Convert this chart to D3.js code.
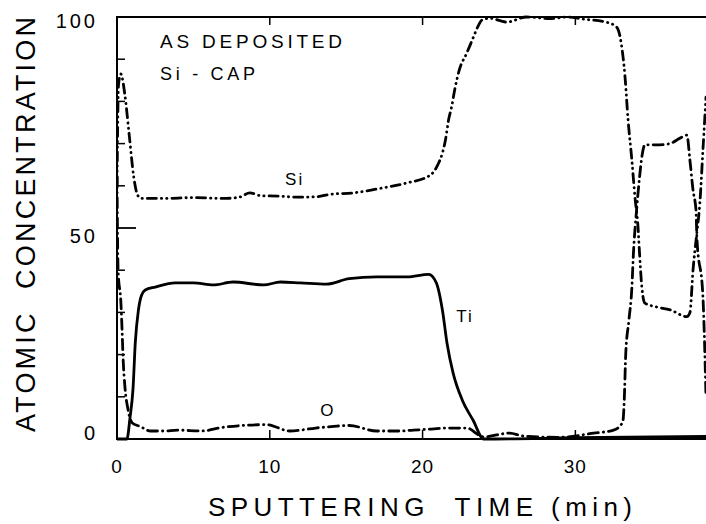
<!DOCTYPE html>
<html><head><meta charset="utf-8">
<script src="https://cdn.jsdelivr.net/npm/d3@7/dist/d3.min.js"></script>
<style>body{margin:0;background:#fff}svg{display:block}text{font-family:"Liberation Sans",Arial,sans-serif;fill:#000}</style>
</head><body><svg id="c" width="706" height="524"></svg>
<script>
// Data (time in min, atomic concentration in %)
const siTime = [0,0.1,0.25,0.5,0.8,1.1,1.35,1.6,3,5,7,8,8.7,9.5,10,12,13,14,15.4,17.4,19,20.5,21,21.3,21.5,21.7,21.9,22.1,22.4,22.9,23.3,23.6,23.9,24.4,25.5,26.8,27.7,28.3,29.5,30.5,32,32.7,33,33.25,33.45,33.7,33.9,34.1,34.2,34.35,34.55,35.3,36.2,37.3,37.5,37.7,37.95,38.15,38.35,38.55];
const siConc = [60,84,86.5,82,72,62,57.8,57,57,57.2,57,57.3,58.3,57.6,57.6,57.3,57.4,58,58.3,59.5,60.7,62.5,65,67.8,70.9,75.6,78.7,82.7,87.4,91.5,95,97.6,99.3,99.7,98.8,100,99.8,99.6,100,99.5,98.8,97.6,93.8,85.8,75.6,66,57.3,50.2,44,36,32.2,31.3,30.6,29,30,40,48.8,56,68.5,81];
const tiTime = [0,0.65,0.85,1.05,1.2,1.4,1.6,1.85,2.5,3.8,5,6.3,7.6,9.6,10.7,12,13.7,15.2,17,19,20.4,20.9,21.3,21.6,22,22.6,23.3,24,30,38.6];
const tiConc = [0,0,5,12,23,30.5,34,35.3,36,37,37,36.5,37.2,36.5,37.2,37,36.7,38,38.4,38.4,39,37,30.5,22.7,15.6,9.2,4.5,0,0.3,0.6];
const oTime = [0,0.07,0.26,0.33,0.4,0.52,0.72,1.0,1.5,2.2,3,4,5.5,7,9.8,11.3,13,14.2,15.2,17,18.5,19.4,20.3,21.6,22.9,23.7,24,25.7,26.6,29,31.2,32.5,33.1,33.2,33.3,33.5,33.7,33.8,34.0,34.2,34.35,34.55,35.5,36.2,36.85,37.3,37.5,37.7,37.9,37.95,38.35,38.55];
const oConc = [62,40,32,26,19,12.3,7,3.8,3,1.9,1.9,2.1,1.9,2.8,3.4,1.9,2.6,3,3.2,1.9,1.9,2.1,2.3,2.6,2.6,0.9,0.5,1.4,0.7,0.4,1.4,2.1,4,9.2,20.4,28,36,44,54,62,66.8,69.7,69.7,70,71.3,72,66,59,54,48,33.6,10];
const xTicks = [0,10,20,30];
const yTickLabels = [0,50,100];
const yMinorTicks = [10,20,30,40,60,70,80,90];
const seriesLabels = [
  {text:"Si", t:11.0, c:60.2},
  {text:"Ti", t:22.2, c:27.8},
  {text:"O", t:13.3, c:5.5}
];

const svg = d3.select("#c");
svg.append("rect").attr("width",706).attr("height",524).attr("fill","#fff");
const x = d3.scaleLinear().domain([0,38.55]).range([117,706]);
const y = d3.scaleLinear().domain([0,100]).range([439,17]);

svg.append("defs").append("clipPath").attr("id","clip")
  .append("rect").attr("x",117).attr("y",10).attr("width",589).attr("height",432);

// frame
const frame = svg.append("g").attr("stroke","#000").attr("stroke-width",2).attr("fill","none");
frame.append("path").attr("d",`M706,${y(100)}H${x(0)}V${y(0)}H706`);

// left axis ticks (inside)
svg.append("g").selectAll("line").data(yMinorTicks).join("line")
  .attr("x1",x(0)).attr("x2",x(0)+8).attr("y1",d=>y(d)).attr("y2",d=>y(d))
  .attr("stroke","#000").attr("stroke-width",1.5);
svg.append("line").attr("x1",x(0)).attr("x2",x(0)+19).attr("y1",y(50)).attr("y2",y(50))
  .attr("stroke","#000").attr("stroke-width",1.8);
// bottom & top ticks
svg.append("g").selectAll("line").data(xTicks.slice(1)).join("line")
  .attr("x1",d=>x(d)).attr("x2",d=>x(d)).attr("y1",y(0)).attr("y2",y(0)-9)
  .attr("stroke","#000").attr("stroke-width",1.5);
svg.append("g").selectAll("line").data(xTicks.slice(1)).join("line")
  .attr("x1",d=>x(d)).attr("x2",d=>x(d)).attr("y1",y(100)).attr("y2",y(100)+8)
  .attr("stroke","#000").attr("stroke-width",1.5);

// tick labels
svg.append("g").selectAll("text").data(yTickLabels).join("text")
  .attr("x",98).attr("y",d=>y(d)+ (d===100?11:(d===50?15:1)))
  .attr("text-anchor","end").attr("font-size",20).attr("letter-spacing",3)
  .text(d=>d);
svg.append("g").selectAll("text").data(xTicks).join("text")
  .attr("x",d=>x(d)).attr("y",473)
  .attr("text-anchor","middle").attr("font-size",19).attr("letter-spacing",1)
  .text(d=>d);

// lines
const line = d3.line().x(d=>x(d[0])).y(d=>y(d[1])).curve(d3.curveMonotoneX);
const zip = (a,b)=>a.map((v,i)=>[v,b[i]]);
const g = svg.append("g").attr("clip-path","url(#clip)").attr("fill","none")
  .attr("stroke","#000").attr("stroke-width",2.8).attr("stroke-linecap","round").attr("stroke-linejoin","round");
g.append("path").attr("d",line(zip(siTime,siConc))).attr("stroke-dasharray","9 5 0.3 5 0.3 5");
g.append("path").attr("d",line(zip(oTime,oConc))).attr("stroke-dasharray","10 5 0.3 5");
g.append("path").attr("d",line(zip(tiTime,tiConc)));

// series labels
svg.append("g").selectAll("text").data(seriesLabels).join("text")
  .attr("x",d=>x(d.t)).attr("y",d=>y(d.c)).attr("font-size",17).attr("letter-spacing",2)
  .text(d=>d.text);

// annotations
svg.append("text").attr("x",160).attr("y",48).attr("font-size",19)
  .attr("textLength",182).attr("lengthAdjust","spacing").text("AS DEPOSITED");
svg.append("text").attr("x",160).attr("y",80).attr("font-size",18)
  .attr("textLength",95).attr("lengthAdjust","spacing").text("Si - CAP");

// axis titles
svg.append("text").attr("x",208).attr("y",516).attr("font-size",26)
  .attr("textLength",424).attr("lengthAdjust","spacing").attr("xml:space","preserve")
  .text("SPUTTERING  TIME (min)");
svg.append("text").attr("transform","translate(35,432) rotate(-90)").attr("font-size",27)
  .attr("textLength",415).attr("lengthAdjust","spacing").attr("xml:space","preserve")
  .text("ATOMIC  CONCENTRATION");
</script></body></html>
